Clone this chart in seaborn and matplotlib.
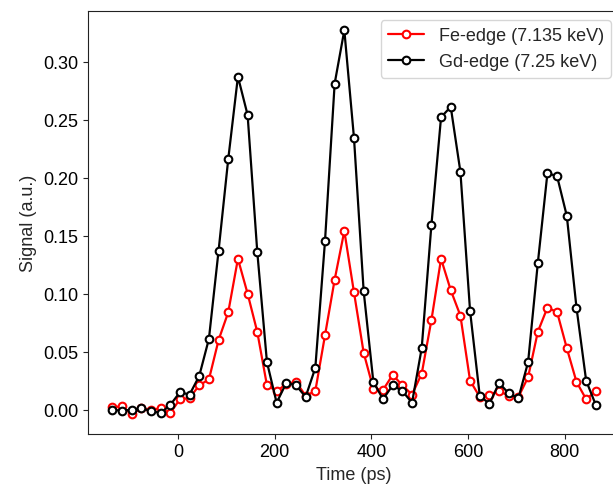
import matplotlib
matplotlib.use("Agg")
import matplotlib.pyplot as plt
import seaborn as sns

time_ps = [-136, -116, -96, -76, -56, -36, -16, 4, 24, 44,
           64, 84, 104, 124, 144, 164, 184, 204, 224, 244,
           264, 284, 304, 324, 344, 364, 384, 404, 424, 444,
           464, 484, 504, 524, 544, 564, 584, 604, 624, 644,
           664, 684, 704, 724, 744, 764, 784, 804, 824, 844, 864]

fe_signal = [0.002, 0.003, -0.004, 0.001, 0.000, 0.001, -0.003, 0.009, 0.010, 0.021,
             0.026, 0.060, 0.084, 0.130, 0.100, 0.067, 0.021, 0.016, 0.022, 0.024,
             0.012, 0.016, 0.064, 0.112, 0.154, 0.101, 0.049, 0.018, 0.017, 0.030,
             0.021, 0.013, 0.031, 0.077, 0.130, 0.103, 0.081, 0.025, 0.011, 0.013,
             0.016, 0.012, 0.011, 0.028, 0.067, 0.088, 0.084, 0.053, 0.024, 0.009, 0.016]

gd_signal = [0.000, -0.001, 0.000, 0.001, -0.001, -0.003, 0.004, 0.015, 0.013, 0.029,
             0.061, 0.137, 0.216, 0.287, 0.254, 0.136, 0.041, 0.006, 0.023, 0.021,
             0.011, 0.036, 0.145, 0.281, 0.327, 0.234, 0.102, 0.024, 0.009, 0.021,
             0.016, 0.006, 0.053, 0.159, 0.252, 0.261, 0.205, 0.085, 0.012, 0.005,
             0.023, 0.014, 0.010, 0.041, 0.126, 0.204, 0.201, 0.167, 0.088, 0.025, 0.004]

labels = ['Fe-edge (7.135 keV)', 'Gd-edge (7.25 keV)']
colors = ['red', 'black']

sns.set_style('ticks')
plt.rcParams['font.family'] = ['Liberation Sans', 'DejaVu Sans']
plt.rcParams['font.size'] = 13

fig = plt.figure(figsize=(6.13, 4.89), dpi=100)
# axes runs a little past the right edge, like the cropped original
ax = fig.add_axes([88/613, 54.5/489, 532/613, 422.5/489])

for y, lab, c in zip([fe_signal, gd_signal], labels, colors):
    sns.lineplot(x=time_ps, y=y, ax=ax, color=c, lw=1.6, marker='o', markersize=5.5,
                 markerfacecolor='white', markeredgecolor=c, markeredgewidth=1.5,
                 label=lab)

ax.set_xticks([0, 200, 400, 600, 800])
ax.set_yticks([0.0, 0.05, 0.10, 0.15, 0.20, 0.25, 0.30])
ax.set_xlabel('Time (ps)')
ax.set_ylabel('Signal (a.u.)')
for s in ax.spines.values():
    s.set_color('#222222')
ax.tick_params(colors='#222222', labelcolor='black')
ax.legend(loc='upper right')

fig.savefig('out.png', dpi=100)
